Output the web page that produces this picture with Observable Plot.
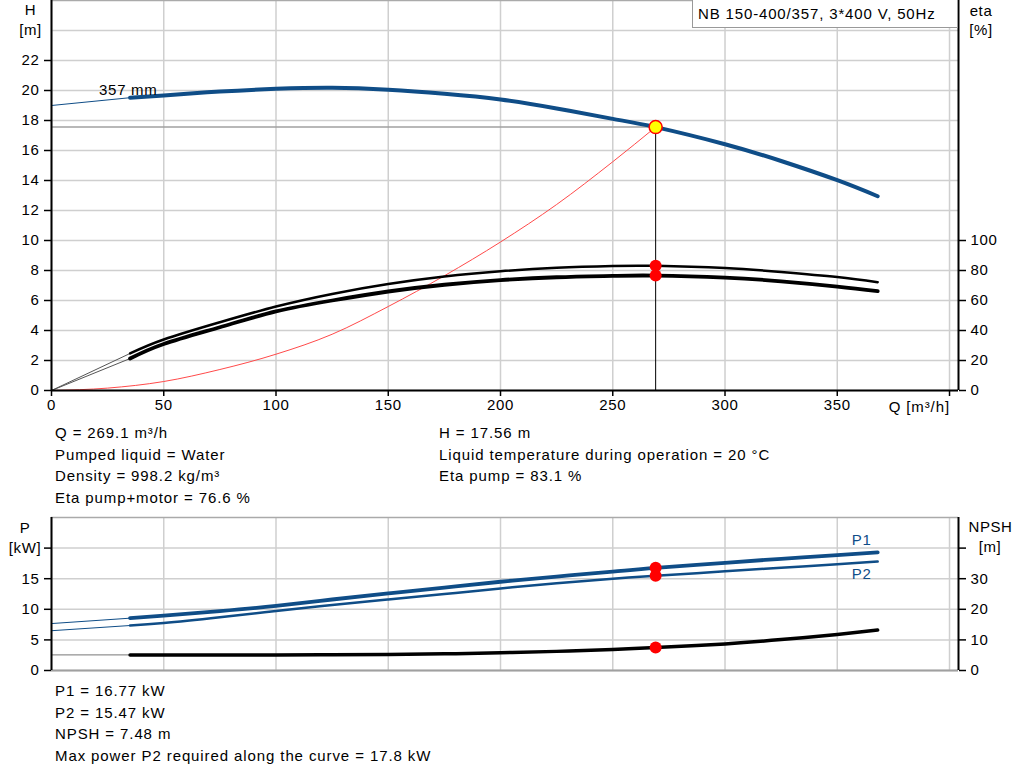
<!DOCTYPE html>
<html><head><meta charset="utf-8">
<script src="https://cdn.jsdelivr.net/npm/d3@7"></script>
<script src="https://cdn.jsdelivr.net/npm/@observablehq/plot@0.6"></script>
<style>
body{margin:0;background:#fff;font-family:"Liberation Sans",Arial,sans-serif;font-size:15px;color:#000}
#root{position:relative;width:1024px;height:781px;overflow:hidden;background:#fff}
.t{position:absolute;white-space:nowrap;line-height:17px;letter-spacing:0.9px}
.c{position:absolute;width:80px;text-align:center;line-height:17px;white-space:nowrap;letter-spacing:0.6px}
.box{position:absolute;left:692px;top:-1px;width:266px;height:29px;border:1px solid #999;background:#fff;box-sizing:border-box;padding-left:5px;line-height:27px;white-space:nowrap;letter-spacing:0.85px}
.pl{position:absolute;left:0}
svg text{letter-spacing:0.7px}
</style></head><body><div id="root"></div>
<script>
// ---- texts ----
const model = "NB 150-400/357, 3*400 V, 50Hz";
const impeller = "357 mm";
const infoLeft = ["Q = 269.1 m³/h", "Pumped liquid = Water", "Density = 998.2 kg/m³", "Eta pump+motor = 76.6 %"];
const infoRight = ["H = 17.56 m", "Liquid temperature during operation = 20 °C", "Eta pump = 83.1 %"];
const infoBottom = ["P1 = 16.77 kW", "P2 = 15.47 kW", "NPSH = 7.48 m", "Max power P2 required along the curve = 17.8 kW"];

// ---- ticks ----
const qTicks = [0, 50, 100, 150, 200, 250, 300, 350, 400];
const hTicks = [0, 2, 4, 6, 8, 10, 12, 14, 16, 18, 20, 22];
const hGrid = [0, 2, 4, 6, 8, 10, 12, 14, 16, 18, 20, 22, 24];
const etaTicks = [0, 20, 40, 60, 80, 100];
const pTicks = [0, 5, 10, 15, 20];
const npshTicks = [0, 10, 20, 30, 40];

// ---- operating point ----
const opQ = 269.1, opH = 17.56, opEtaPump = 83.1, opEtaTotal = 76.6, opP1 = 16.77, opP2 = 15.47, opNPSH = 7.48;

// ---- curves ----
const Q        = [35, 50, 75, 100, 125, 150, 175, 200, 225, 250, 269.1, 300, 325, 350, 368];
const H        = [19.52, 19.67, 19.93, 20.11, 20.18, 20.05, 19.78, 19.4, 18.8, 18.11, 17.56, 16.42, 15.3, 14.02, 12.95];
const etaPump  = [24.7, 34.0, 45.5, 56.0, 64.4, 71.0, 76.0, 79.5, 81.8, 83.0, 83.1, 81.6, 79.0, 75.6, 72.2];
const etaTotal = [21.3, 31.0, 42.2, 52.7, 60.0, 66.0, 70.5, 73.6, 75.5, 76.4, 76.6, 75.2, 72.8, 69.3, 66.2];
const P1       = [8.55, 8.95, 9.7, 10.55, 11.6, 12.6, 13.55, 14.5, 15.35, 16.15, 16.77, 17.6, 18.25, 18.85, 19.3];
const P2       = [7.35, 7.75, 8.7, 9.72, 10.7, 11.6, 12.5, 13.4, 14.25, 15.0, 15.47, 16.2, 16.8, 17.35, 17.8];
const NPSH     = [5.1, 5.1, 5.1, 5.1, 5.15, 5.25, 5.45, 5.8, 6.25, 6.9, 7.48, 8.7, 10.1, 11.8, 13.2];

// thin extensions at Q = 0
const startQ = 0, hStart = 19.0, etaStart = 0, p1Start = 7.67, p2Start = 6.5, npshStart = 5.1;

// system curve
const sysQ = [0, 25, 50, 75, 100, 125, 150, 175, 200, 225, 250, 269.1];
const sysH = [0, 0.16, 0.6, 1.4, 2.42, 3.75, 5.6, 7.65, 9.9, 12.4, 15.25, 17.56];

// ---- build tables (eta mapped to H axis: 100 % = 10 m; NPSH mapped to P axis: 40 m = 20 kW) ----
const curve = Q.map((q, i) => ({q, h: H[i], ep: etaPump[i] / 10, et: etaTotal[i] / 10, p1: P1[i], p2: P2[i], np: NPSH[i] / 2}));
const start = {q: startQ, h: hStart, ep: etaStart / 10, et: etaStart / 10, p1: p1Start, p2: p2Start, np: npshStart / 2};
const thin = [start, curve[0]];
const sys = sysQ.map((q, i) => ({q, h: sysH[i]}));

const blue = "#0f4d87";
const grid = "#cfcfcf";
const font = '"Liberation Sans", Arial, sans-serif';
const style = {fontFamily: font, fontSize: "15px", color: "#000", background: "transparent", overflow: "visible"};
const root = document.getElementById("root");
const cv = "natural";

const topPlot = Plot.plot({
  width: 1024, height: 420, marginLeft: 51, marginRight: 66, marginTop: 0, marginBottom: 30,
  x: {domain: [0, 404], axis: null}, y: {domain: [0, 26], axis: null},
  style,
  marks: [
    Plot.gridX(qTicks, {stroke: grid, strokeOpacity: 1, strokeWidth: 1.5}),
    Plot.gridY(hGrid, {stroke: grid, strokeOpacity: 1, strokeWidth: 1.5}),
    Plot.ruleY([opH], {x1: () => 0, x2: () => opQ, stroke: "#a0a0a0", strokeWidth: 1.5}),
    Plot.line(sys, {x: "q", y: "h", stroke: "#ff4a4a", strokeWidth: 1, curve: "monotone-x"}),
    Plot.ruleX([opQ], {y1: () => 0, y2: () => opH, stroke: "#000", strokeWidth: 1}),
    Plot.line(thin, {x: "q", y: "h", stroke: blue, strokeWidth: 1}),
    Plot.line(thin, {x: "q", y: "ep", stroke: "#555", strokeWidth: 1}),
    Plot.line(thin, {x: "q", y: "et", stroke: "#555", strokeWidth: 1}),
    Plot.line(curve, {x: "q", y: "ep", stroke: "#000", strokeWidth: 2.5, curve: cv}),
    Plot.line(curve, {x: "q", y: "et", stroke: "#000", strokeWidth: 3.8, curve: cv}),
    Plot.line(curve, {x: "q", y: "h", stroke: blue, strokeWidth: 4, curve: cv}),
    Plot.text([curve[0]], {x: "q", y: "h", text: () => impeller, textAnchor: "start", dx: -31, dy: -8, fill: "#000", fontSize: 15}),
    Plot.dot([opEtaPump / 10, opEtaTotal / 10], {x: () => opQ, y: d => d, r: 6, fill: "#ff0000"}),
    Plot.dot([opH], {x: () => opQ, y: d => d, r: 6.5, fill: "#ffff00", stroke: "#ff0000", strokeWidth: 1.5}),
    Plot.ruleY([26], {stroke: "#aaa", strokeWidth: 1.5}),
    Plot.ruleY([0], {stroke: "#000", strokeWidth: 2}),
    Plot.ruleX([0], {stroke: "#000", strokeWidth: 2}),
    Plot.ruleX([404], {stroke: "#000", strokeWidth: 2}),
    Plot.axisY(hTicks, {anchor: "left", tickSize: 7, tickPadding: 5, strokeWidth: 1.5, label: null, fontSize: 15}),
    Plot.axisY(etaTicks.map(v => v / 10), {anchor: "right", tickSize: 7, tickPadding: 5, strokeWidth: 1.5, label: null, fontSize: 15, tickFormat: d => String(Math.round(d * 10))}),
    Plot.axisX(qTicks, {anchor: "bottom", tickSize: 6, tickPadding: 3, strokeWidth: 1.5, label: null, fontSize: 15, tickFormat: d => d === 400 ? "" : String(d)})
  ]
});

const botPlot = Plot.plot({
  width: 1024, height: 180, marginLeft: 51, marginRight: 66, marginTop: 17, marginBottom: 10,
  x: {domain: [0, 404], axis: null}, y: {domain: [0, 25], axis: null},
  style,
  marks: [
    Plot.gridX(qTicks, {stroke: grid, strokeOpacity: 1, strokeWidth: 1.5}),
    Plot.gridY(pTicks, {stroke: grid, strokeOpacity: 1, strokeWidth: 1.5}),
    Plot.line(thin, {x: "q", y: "p1", stroke: blue, strokeWidth: 1}),
    Plot.line(thin, {x: "q", y: "p2", stroke: blue, strokeWidth: 1}),
    Plot.line(thin, {x: "q", y: "np", stroke: "#777", strokeWidth: 1}),
    Plot.line(curve, {x: "q", y: "np", stroke: "#000", strokeWidth: 3.5, curve: cv}),
    Plot.line(curve, {x: "q", y: "p2", stroke: blue, strokeWidth: 2.5, curve: cv}),
    Plot.line(curve, {x: "q", y: "p1", stroke: blue, strokeWidth: 3.8, curve: cv}),
    Plot.text([curve[curve.length - 1]], {x: "q", y: "p1", text: () => "P1", dx: -16, dy: -12, fill: blue, fontSize: 15}),
    Plot.text([curve[curve.length - 1]], {x: "q", y: "p2", text: () => "P2", dx: -16, dy: 13, fill: blue, fontSize: 15}),
    Plot.dot([opP1, opP2, opNPSH / 2], {x: () => opQ, y: d => d, r: 6, fill: "#ff0000"}),
    Plot.ruleY([25], {stroke: "#aaa", strokeWidth: 1.5}),
    Plot.ruleY([0], {stroke: "#a0a0a0", strokeWidth: 2}),
    Plot.ruleX([0], {stroke: "#000", strokeWidth: 2}),
    Plot.ruleX([404], {stroke: "#000", strokeWidth: 2}),
    Plot.axisY(pTicks, {anchor: "left", tickSize: 7, tickPadding: 5, strokeWidth: 1.5, label: null, fontSize: 15, tickFormat: d => d === 20 ? "" : String(d)}),
    Plot.axisY(npshTicks.map(v => v / 2), {anchor: "right", tickSize: 7, tickPadding: 5, strokeWidth: 1.5, label: null, fontSize: 15, tickFormat: d => d * 2 === 40 ? "" : String(d * 2)})
  ]
});

function place(node, top) {
  const w = document.createElement("div");
  w.className = "pl";
  w.style.top = top + "px";
  w.appendChild(node);
  root.appendChild(w);
}
place(topPlot, 0);
place(botPlot, 500);

function txt(cls, s, left, top) {
  const d = document.createElement("div");
  d.className = cls;
  d.textContent = s;
  d.style.left = left + "px";
  d.style.top = top + "px";
  root.appendChild(d);
  return d;
}
// axis titles (centered)
txt("c", "H", 30.5 - 40, 10 - 9);
txt("c", "[m]", 30.5 - 40, 30 - 9);
txt("c", "eta", 981 - 40, 11 - 9);
txt("c", "[%]", 981 - 40, 30 - 9);
txt("c", "P", 25 - 40, 527.5 - 9);
txt("c", "[kW]", 25 - 40, 547.5 - 9);
txt("c", "NPSH", 990.5 - 40, 527 - 9);
txt("c", "[m]", 990 - 40, 547 - 9);
const ql = txt("t", "Q [m³/h]", 0, 407 - 9);
ql.style.left = "auto"; ql.style.right = (1024 - 950) + "px";

// model box
const box = document.createElement("div");
box.className = "box"; box.textContent = model; root.appendChild(box);

// info texts
const lh = 21.5;
infoLeft.forEach((s, i) => txt("t", s, 55, 433 - 9 + i * lh));
infoRight.forEach((s, i) => txt("t", s, 439, 433 - 9 + i * lh));
infoBottom.forEach((s, i) => txt("t", s, 55, 691 - 9 + i * 21.7));
</script></body></html>
